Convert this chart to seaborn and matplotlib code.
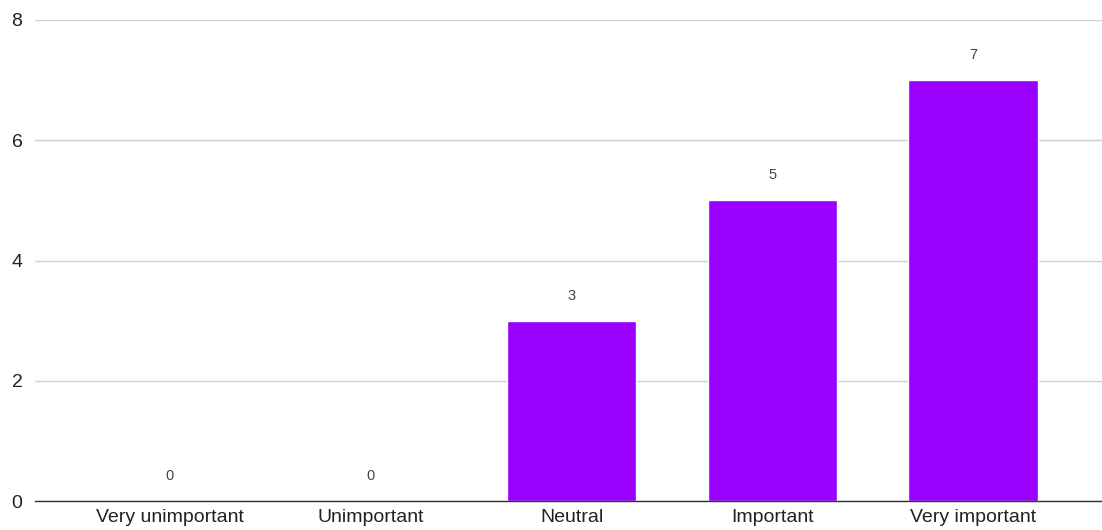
import matplotlib
matplotlib.use("Agg")
import matplotlib.pyplot as plt
import seaborn as sns
import pandas as pd

categories = ["Very unimportant", "Unimportant", "Neutral", "Important", "Very important"]
counts = [0, 0, 3, 5, 7]
y_ticks = [0, 2, 4, 6, 8]

sns.set_theme(style="white")
plt.rcParams["font.family"] = ["Liberation Sans", "DejaVu Sans"]

df = pd.DataFrame({"category": categories, "count": counts})

fig = plt.figure(figsize=(11.02, 5.30), dpi=100)
ax = fig.add_axes([35 / 1102, 1 - 501 / 530, 1 - 35 / 1102, (501 - 20) / 530])

sns.barplot(data=df, x="category", y="count", color="#9900ff", saturation=1,
            width=0.645, ax=ax, zorder=3)

ax.set_ylim(0, 8)
ax.set_xlim(-0.672, 4.642)
ax.set_yticks(y_ticks)
ax.set_yticklabels([str(t) for t in y_ticks])
ax.yaxis.grid(True, color="#d0d0d0", linewidth=1.0, zorder=0)
ax.xaxis.grid(False)
for side in ["top", "right", "left"]:
    ax.spines[side].set_visible(False)
ax.spines["bottom"].set_color("#333333")
ax.spines["bottom"].set_linewidth(1.0)
ax.spines["bottom"].set_zorder(4)
ax.tick_params(axis="both", length=0, labelsize=14, labelcolor="#222222")
ax.tick_params(axis="y", pad=9)
ax.tick_params(axis="x", pad=6)
ax.set_xlabel("")
ax.set_ylabel("")

for i, v in enumerate(counts):
    ax.annotate(str(v), xy=(i, v), xytext=(0, 18), textcoords="offset points",
                ha="center", va="center", fontsize=10.5, color="#444444")

fig.savefig("out.png", dpi=100)
